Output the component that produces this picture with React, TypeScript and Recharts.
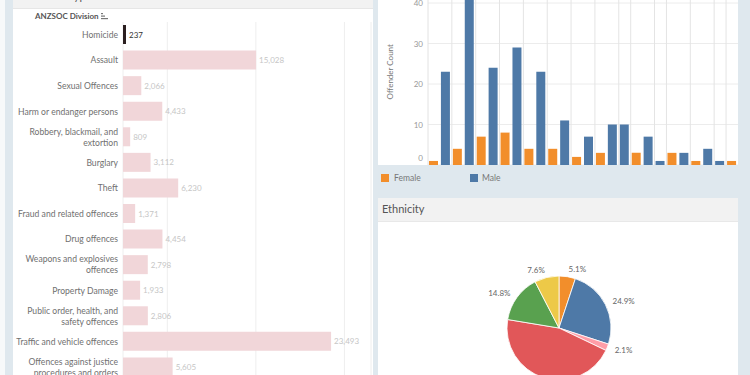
import React from "react";
import {
  BarChart,
  Bar,
  XAxis,
  YAxis,
  CartesianGrid,
  LabelList,
  ReferenceLine,
  PieChart,
  Pie,
  Cell,
} from "recharts";

// ANZSOC divisions (left chart)
const divisions = [
  "Homicide",
  "Assault",
  "Sexual Offences",
  "Harm or endanger persons",
  "Robbery, blackmail, and extortion",
  "Burglary",
  "Theft",
  "Fraud and related offences",
  "Drug offences",
  "Weapons and explosives offences",
  "Property Damage",
  "Public order, health, and safety offences",
  "Traffic and vehicle offences",
  "Offences against justice procedures and orders",
];
const divisionCounts = [
  237, 15028, 2066, 4433, 809, 3112, 6230, 1371, 4454, 2798, 1933, 2806, 23493,
  5605,
];
const selectedDivision = "Homicide";
const divisionTicks = [5000, 10000, 15000, 20000, 25000];

// offenders by age group and gender (top right)
const ageGroups = [
  "17-19", "20-24", "25-29", "30-34", "35-39", "40-44", "45-49", "50-54",
  "55-59", "60-64", "65-69", "70-74", "75-79", "80-84", "85+",
];
const femaleCounts = [1, 4, 7, 8, 4, 4, 2, 3, null, 3, null, 3, 1, null, 1];
const maleCounts = [23, 45, 24, 29, 23, 11, 7, 10, 10, 7, 1, 3, 4, 1, null];
const countTicks = [0, 10, 20, 30, 40];

// ethnicity pie
const ethnicities = ["Asian", "European", "MELAA", "Māori", "Pacific Peoples", "Other"];
const ethnicityShares = [5.1, 24.9, 2.1, 45.5, 14.8, 7.6];
const ethnicityColors = ["#f28e2b", "#4e79a7", "#ff9da7", "#e15759", "#59a14f", "#edc948"];

const FEMALE = "#f28e2b";
const MALE = "#4e79a7";
const FONT = "Lato, 'Noto Sans', sans-serif";

const divisionData = divisions.map((name, i) => ({ name, count: divisionCounts[i] }));

const genderRows: { key: string; group: string; female?: number; male?: number }[] = [];
const groupStarts: string[] = [];
ageGroups.forEach((group, i) => {
  const rows = [];
  if (femaleCounts[i] != null) rows.push({ key: `${group} F`, group, female: femaleCounts[i] as number });
  if (maleCounts[i] != null) rows.push({ key: `${group} M`, group, male: maleCounts[i] as number });
  if (i > 0) groupStarts.push(rows[0].key);
  genderRows.push(...rows);
});

const ethnicityData = ethnicities.map((name, i) => ({ name, share: ethnicityShares[i] }));

const wrap = (text: string, max = 28) => {
  const lines: string[] = [];
  let cur = "";
  text.split(" ").forEach((w) => {
    const next = cur ? `${cur} ${w}` : w;
    if (next.length > max && cur) {
      lines.push(cur);
      cur = w;
    } else cur = next;
  });
  lines.push(cur);
  return lines;
};

const DivisionTick = (props: any) => {
  const { x, y, payload } = props;
  const lines = wrap(payload.value);
  const lh = 11;
  return (
    <text x={x} y={y} textAnchor="end" fontSize={8.6} fill="#707070" fontFamily={FONT}>
      {lines.map((l, i) => (
        <tspan key={i} x={x} dy={i === 0 ? -((lines.length - 1) * lh) / 2 + 3 : lh}>
          {l}
        </tspan>
      ))}
    </text>
  );
};

const CountLabel = (props: any) => {
  const { x, y, width, height, value, index } = props;
  const sel = divisions[index] === selectedDivision;
  return (
    <text
      x={x + width + 3}
      y={y + height / 2 + 3}
      fontSize={8}
      fill={sel ? "#333" : "#c6c6c6"}
      fontFamily={FONT}
    >
      {Number(value).toLocaleString("en-US")}
    </text>
  );
};

const CountTick = (props: any) => {
  const { x, y, payload } = props;
  return (
    <text x={x} y={payload.value === 0 ? y - 4 : y + 3} textAnchor="end" fontSize={8} fill="#999" fontFamily={FONT}>
      {payload.value}
    </text>
  );
};

const AxisTitle = (props: any) => {
  const { viewBox } = props;
  const x = viewBox.x + 15;
  const y = viewBox.y + viewBox.height / 2 + 8;
  return (
    <text x={x} y={y} transform={`rotate(-90 ${x} ${y})`} textAnchor="middle" fontSize={8} fill="#777" fontFamily={FONT}>
      Offender Count
    </text>
  );
};

const pieLabel = (props: any) => {
  const { cx, cy, midAngle, outerRadius, index } = props;
  const rad = Math.PI / 180;
  const r = outerRadius + 8;
  const x = cx + r * Math.cos(-midAngle * rad);
  const y = cy + r * Math.sin(-midAngle * rad);
  return (
    <text x={x} y={y + 3} textAnchor={x > cx ? "start" : "end"} fontSize={8} fill="#666" fontFamily={FONT}>
      {ethnicityShares[index].toFixed(1)}%
    </text>
  );
};

const box = (l: number, t: number, w: number, h: number, extra: React.CSSProperties = {}): React.CSSProperties => ({
  position: "absolute",
  left: l,
  top: t,
  width: w,
  height: h,
  ...extra,
});

export default function App() {
  return (
    <div style={box(0, 0, 750, 375, { background: "#dfe8ee", overflow: "hidden", fontFamily: FONT })}>
      <div style={box(0, 0, 5, 375, { background: "#f7f9fa" })} />

      {/* left panel */}
      <div style={box(13, 0, 360, 375, { background: "#fff" })} />
      <div style={box(13, 0, 360, 8, { background: "#f2f2f2", borderBottom: "1px solid #e6e6e6", overflow: "hidden" })}>
        <div style={{ position: "absolute", left: 14, top: -11, fontSize: 11, color: "#555" }}>Offence Type</div>
      </div>
      <div style={box(35, 11, 120, 12, { fontSize: 8, fontWeight: 700, color: "#555" })}>
        ANZSOC Division{" "}
        <svg width={7} height={7} style={{ verticalAlign: "middle" }}>
          <rect x={0} y={0} width={2} height={1.2} fill="#777" />
          <rect x={0} y={2.5} width={4} height={1.2} fill="#777" />
          <rect x={0} y={5} width={7} height={1.2} fill="#777" />
        </svg>
      </div>
      <div style={box(13, 0, 360, 400)}>
        <BarChart
          width={360}
          height={400}
          data={divisionData}
          layout="vertical"
          margin={{ top: 22, right: 2, bottom: 20, left: 0 }}
        >
          <CartesianGrid horizontal={false} stroke="#eeeeee" />
          <XAxis type="number" domain={[0, 28000]} ticks={divisionTicks} hide />
          <YAxis
            type="category"
            dataKey="name"
            width={110}
            axisLine={false}
            tickLine={false}
            tickSize={3}
            tickMargin={2}
            interval={0}
            tick={<DivisionTick />}
          />
          <Bar dataKey="count" barSize={19} minPointSize={3} isAnimationActive={false}>
            {divisionData.map((d) => (
              <Cell key={d.name} fill={d.name === selectedDivision ? "#2b1f20" : "#f1d6d9"} />
            ))}
            <LabelList dataKey="count" content={<CountLabel />} />
          </Bar>
        </BarChart>
      </div>

      {/* top right: gender by age */}
      <div style={box(378, 0, 360, 165, { background: "#fff" })} />
      <div style={box(378, -50, 360, 215)}>
        <BarChart width={360} height={215} data={genderRows} margin={{ top: 12.5, right: 0, bottom: 0, left: 0 }}>
          <CartesianGrid vertical={false} stroke="#ececec" />
          <XAxis type="category" dataKey="key" hide />
          <YAxis
            domain={[0, 50]}
            ticks={countTicks}
            interval={0}
            width={50}
            axisLine={{ stroke: "#e2e2e2" }}
            tickLine={false}
            tickSize={3}
            tickMargin={2}
            tick={<CountTick />}
            label={<AxisTitle />}
          />
          {groupStarts.map((k) => (
            <ReferenceLine key={k} x={k} position="start" stroke="#e4e4e4" />
          ))}
          <Bar dataKey="female" stackId="g" fill={FEMALE} barSize={9} isAnimationActive={false} />
          <Bar dataKey="male" stackId="g" fill={MALE} barSize={9} isAnimationActive={false} />
        </BarChart>
      </div>
      <div style={box(381, 172, 200, 12, { fontSize: 8.5, color: "#777", display: "flex", alignItems: "center" })}>
        <span style={{ width: 8, height: 8, background: FEMALE, display: "inline-block", marginRight: 5 }} />
        <span style={{ width: 76 }}>Female</span>
        <span style={{ width: 8, height: 8, background: MALE, display: "inline-block", marginRight: 4 }} />
        <span>Male</span>
      </div>

      {/* bottom right: ethnicity */}
      <div style={box(378, 198, 360, 24, { background: "#f2f2f2", borderBottom: "1px solid #e8e8e8", boxSizing: "border-box" })}>
        <div style={{ position: "absolute", left: 4, top: 4, fontSize: 11, color: "#555" }}>Ethnicity</div>
      </div>
      <div style={box(378, 222, 360, 153, { background: "#fff" })} />
      <div style={box(378, 222, 360, 220)}>
        <PieChart width={360} height={220} margin={{ top: 0, right: 0, bottom: 0, left: 0 }}>
          <Pie
            data={ethnicityData}
            dataKey="share"
            nameKey="name"
            cx={181}
            cy={106}
            outerRadius={52}
            startAngle={90}
            endAngle={-270}
            stroke="#fff"
            strokeWidth={0.8}
            label={pieLabel}
            labelLine={false}
            isAnimationActive={false}
          >
            {ethnicityData.map((d, i) => (
              <Cell key={d.name} fill={ethnicityColors[i]} />
            ))}
          </Pie>
        </PieChart>
      </div>
    </div>
  );
}
